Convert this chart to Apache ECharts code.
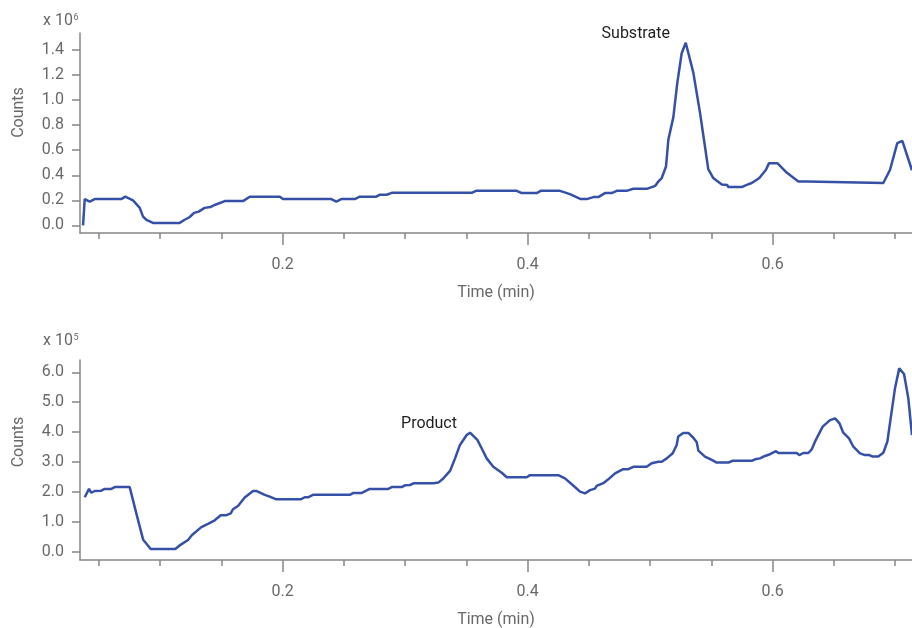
<!DOCTYPE html>
<html>
<head>
<meta charset="utf-8">
<script src="https://cdn.jsdelivr.net/npm/echarts@6/dist/echarts.min.js"></script>
<style>
  html, body { margin: 0; padding: 0; background: #ffffff; }
  #chart { width: 912px; height: 628px; }
</style>
</head>
<body>
<div id="chart"></div>
<script>
// Extracted ion chromatograms: [time (min), counts]
// Substrate trace, counts in units of 10^6
const substrateTrace = [
  [0.0370, 0], [0.0384, 0.21], [0.0424, 0.19], [0.0465, 0.21], [0.0682, 0.21], [0.0715, 0.23],
  [0.0778, 0.20], [0.0833, 0.14], [0.0860, 0.07], [0.0887, 0.045], [0.0941, 0.02], [0.1159, 0.02],
  [0.1200, 0.045], [0.1241, 0.067], [0.1276, 0.10], [0.1314, 0.11], [0.1363, 0.14], [0.1412, 0.147],
  [0.1450, 0.165], [0.1527, 0.194], [0.1676, 0.194], [0.1731, 0.229], [0.1976, 0.229], [0.2002, 0.21],
  [0.2397, 0.21], [0.2438, 0.19], [0.2478, 0.21], [0.2588, 0.21], [0.2629, 0.229], [0.2764, 0.229],
  [0.2794, 0.245], [0.2849, 0.245], [0.2890, 0.26], [0.3543, 0.26], [0.3578, 0.276], [0.3910, 0.276],
  [0.3951, 0.258], [0.4073, 0.258], [0.4106, 0.276], [0.4264, 0.276], [0.4345, 0.25], [0.4433, 0.21],
  [0.4482, 0.21], [0.4536, 0.226], [0.4576, 0.226], [0.4631, 0.258], [0.4686, 0.258], [0.4727, 0.276],
  [0.4808, 0.276], [0.4862, 0.292], [0.4971, 0.292], [0.5025, 0.31], [0.5045, 0.32], [0.5066, 0.35],
  [0.5094, 0.378], [0.5129, 0.47], [0.5148, 0.683], [0.5189, 0.864], [0.5221, 1.135], [0.5257, 1.374],
  [0.5290, 1.458], [0.5352, 1.219], [0.5407, 0.896], [0.5447, 0.63], [0.5474, 0.449], [0.5515, 0.378],
  [0.5584, 0.327], [0.5629, 0.322], [0.5638, 0.306], [0.5747, 0.306], [0.5788, 0.324], [0.5829, 0.338],
  [0.5891, 0.378], [0.5945, 0.444], [0.5970, 0.497], [0.6038, 0.497], [0.6114, 0.422], [0.6209, 0.35],
  [0.6278, 0.35], [0.6291, 0.338], [0.6903, 0.338], [0.6958, 0.444], [0.7017, 0.657], [0.7058, 0.675],
  [0.7127, 0.47], [0.7137, 0.44]
];

// Product trace, counts in units of 10^5
const productTrace = [
  [0.0384, 1.82], [0.0419, 2.10], [0.0438, 1.97], [0.0465, 2.03], [0.0519, 2.04], [0.0547, 2.10],
  [0.0601, 2.10], [0.0629, 2.16], [0.0751, 2.16], [0.0805, 1.28], [0.0860, 0.41], [0.0922, 0.09],
  [0.1123, 0.09], [0.1159, 0.21], [0.1227, 0.39], [0.1260, 0.56], [0.1336, 0.82], [0.1390, 0.93],
  [0.1445, 1.05], [0.1494, 1.22], [0.1540, 1.22], [0.1576, 1.28], [0.1594, 1.42], [0.1635, 1.53],
  [0.1690, 1.81], [0.1758, 2.03], [0.1784, 2.03], [0.1853, 1.90], [0.1894, 1.84], [0.1948, 1.75],
  [0.2147, 1.75], [0.2180, 1.82], [0.2207, 1.82], [0.2247, 1.90], [0.2547, 1.90], [0.2574, 1.96],
  [0.2642, 1.96], [0.2710, 2.10], [0.2862, 2.10], [0.2890, 2.16], [0.2971, 2.16], [0.2998, 2.22],
  [0.3039, 2.23], [0.3072, 2.29], [0.3229, 2.29], [0.3270, 2.31], [0.3311, 2.45], [0.3366, 2.70],
  [0.3407, 3.12], [0.3447, 3.57], [0.3502, 3.90], [0.3529, 3.98], [0.3589, 3.74], [0.3624, 3.46],
  [0.3665, 3.12], [0.3719, 2.84], [0.3788, 2.64], [0.3829, 2.49], [0.3992, 2.49], [0.4019, 2.56],
  [0.4250, 2.56], [0.4304, 2.45], [0.4367, 2.23], [0.4427, 2.01], [0.4468, 1.95], [0.4509, 2.06],
  [0.4549, 2.11], [0.4563, 2.20], [0.4617, 2.29], [0.4658, 2.42], [0.4713, 2.62], [0.4780, 2.76],
  [0.4821, 2.76], [0.4862, 2.84], [0.4971, 2.84], [0.5012, 2.96], [0.5066, 3.01], [0.5094, 3.01],
  [0.5135, 3.12], [0.5184, 3.29], [0.5216, 3.57], [0.5229, 3.85], [0.5270, 3.97], [0.5311, 3.97],
  [0.5352, 3.81], [0.5380, 3.66], [0.5393, 3.38], [0.5447, 3.18], [0.5502, 3.07], [0.5543, 2.98],
  [0.5638, 2.98], [0.5673, 3.04], [0.5829, 3.04], [0.5856, 3.09], [0.5896, 3.12], [0.5937, 3.20],
  [0.5978, 3.26], [0.6027, 3.36], [0.6046, 3.30], [0.6196, 3.30], [0.6217, 3.23], [0.6250, 3.30],
  [0.6291, 3.30], [0.6318, 3.42], [0.6345, 3.68], [0.6408, 4.18], [0.6468, 4.40], [0.6509, 4.46],
  [0.6544, 4.30], [0.6576, 3.98], [0.6623, 3.79], [0.6658, 3.51], [0.6713, 3.29], [0.6753, 3.23],
  [0.6789, 3.23], [0.6816, 3.18], [0.6862, 3.18], [0.6903, 3.31], [0.6936, 3.68], [0.6998, 5.46],
  [0.7033, 6.13], [0.7072, 5.94], [0.7107, 5.13], [0.7137, 3.90]
];

// Axis ticks and labels
const timeMinorTicks = [0.05, 0.1, 0.15, 0.2, 0.25, 0.3, 0.35, 0.4, 0.45, 0.5, 0.55, 0.6, 0.65, 0.7];
const timeMajorTicks = [0.2, 0.4, 0.6];
const substrateTicks = [0, 0.2, 0.4, 0.6, 0.8, 1.0, 1.2, 1.4];
const productTicks = [0, 1, 2, 3, 4, 5, 6];

// Annotated peaks: name and retention time (min)
const peakLabels = ['Substrate', 'Product'];
const peakTimes = [0.5290, 0.3529];
const exponents = ['6', '5'];

const FONT = 'Roboto, "Liberation Sans", sans-serif';
const AXIS_GRAY = '#878787';
const TEXT_GRAY = '#696969';
const LINE_BLUE = '#3550a6';

const X_MIN = 0.03453;
const X_MAX = 0.71371;

function pointAt(trace, time) {
  return trace.reduce((best, p) => (Math.abs(p[0] - time) < Math.abs(best[0] - time) ? p : best), trace[0]);
}

function timeAxes(gridIndex) {
  const tickStyle = { color: AXIS_GRAY, width: 1.5 };
  return [
    {
      type: 'value', gridIndex, min: X_MIN, max: X_MAX, position: 'bottom', offset: 0,
      axisLine: { show: true, onZero: false, lineStyle: tickStyle },
      axisTick: { show: true, length: 6, customValues: timeMinorTicks, lineStyle: tickStyle },
      axisLabel: { show: false },
      splitLine: { show: false }
    },
    {
      type: 'value', gridIndex, min: X_MIN, max: X_MAX, position: 'bottom', offset: 0,
      axisLine: { show: false, onZero: false },
      axisTick: { show: true, length: 12, customValues: timeMajorTicks, lineStyle: tickStyle },
      axisLabel: {
        customValues: timeMajorTicks, margin: 24,
        formatter: v => v.toFixed(1),
        color: TEXT_GRAY, fontSize: 16, fontFamily: FONT
      },
      splitLine: { show: false },
      name: 'Time (min)', nameLocation: 'middle', nameGap: 52,
      nameTextStyle: { color: TEXT_GRAY, fontSize: 16, fontFamily: FONT }
    }
  ];
}

function countAxis(gridIndex, min, max, ticks) {
  const lineStyle = { color: AXIS_GRAY, width: 1.5 };
  return {
    type: 'value', gridIndex, min, max,
    axisLine: { show: true, onZero: false, lineStyle },
    axisTick: { show: true, length: 8, customValues: ticks, lineStyle },
    axisLabel: {
      customValues: ticks, margin: 16,
      formatter: v => v.toFixed(1),
      color: TEXT_GRAY, fontSize: 16, fontFamily: FONT
    },
    splitLine: { show: false }
  };
}

function traceSeries(axisIndex, trace, label, peakTime, offset) {
  return {
    type: 'line',
    xAxisIndex: axisIndex * 2,
    yAxisIndex: axisIndex,
    data: trace,
    symbol: 'none',
    showSymbol: false,
    smooth: false,
    lineStyle: { color: LINE_BLUE, width: 2.5 },
    itemStyle: { color: LINE_BLUE },
    emphasis: { disabled: true },
    markPoint: {
      symbol: 'circle', symbolSize: 0, silent: true,
      data: [{
        coord: pointAt(trace, peakTime),
        label: {
          show: true, formatter: label, position: 'inside', offset,
          color: '#1e1e1e', fontSize: 16, fontFamily: FONT
        }
      }]
    }
  };
}

function axisTitles(centerY, expTop, exponent) {
  return [
    {
      type: 'text', x: 19, y: centerY, rotation: Math.PI / 2,
      style: { text: 'Counts', fill: TEXT_GRAY, font: '16px ' + FONT, textAlign: 'center', textVerticalAlign: 'middle' }
    },
    {
      type: 'text', x: 43, y: expTop + 6,
      style: { text: 'x 10', fill: TEXT_GRAY, font: '16px ' + FONT, textAlign: 'left', textVerticalAlign: 'middle' }
    },
    {
      type: 'text', x: 73.5, y: expTop + 2.5,
      style: { text: exponent, fill: TEXT_GRAY, font: '9px ' + FONT, textAlign: 'left', textVerticalAlign: 'middle' }
    }
  ];
}

const chart = echarts.init(document.getElementById('chart'), null, { renderer: 'canvas' });

chart.setOption({
  animation: false,
  backgroundColor: '#ffffff',
  grid: [
    { left: 80, right: 0, top: 33, height: 200, containLabel: false, outerBoundsMode: 'none' },
    { left: 80, right: 0, top: 360, height: 200, containLabel: false, outerBoundsMode: 'none' }
  ],
  xAxis: [...timeAxes(0), ...timeAxes(1)],
  yAxis: [
    countAxis(0, -0.0606, 1.5355, substrateTicks),
    countAxis(1, -0.278, 6.41, productTicks)
  ],
  series: [
    traceSeries(0, substrateTrace, peakLabels[0], peakTimes[0], [-50, -9]),
    traceSeries(1, productTrace, peakLabels[1], peakTimes[1], [-41, -9])
  ],
  graphic: [
    ...axisTitles(112.5, 15, exponents[0]),
    ...axisTitles(442, 335, exponents[1])
  ]
});
</script>
</body>
</html>
